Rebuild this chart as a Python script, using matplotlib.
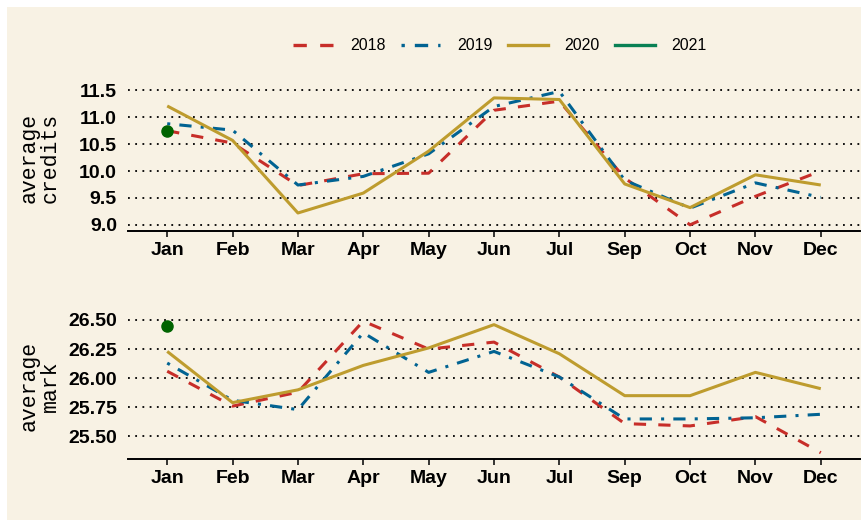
import matplotlib
matplotlib.use("Agg")
import matplotlib.pyplot as plt
from matplotlib.patches import Rectangle

months = ["Jan", "Feb", "Mar", "Apr", "May", "Jun", "Jul", "Sep", "Oct", "Nov", "Dec"]

credits_2018 = [10.75, 10.52, 9.73, 9.95, 9.96, 11.13, 11.30, 9.87, 9.00, 9.53, 10.00]
credits_2019 = [10.88, 10.76, 9.74, 9.90, 10.32, 11.20, 11.48, 9.83, 9.31, 9.78, 9.51]
credits_2020 = [11.21, 10.57, 9.22, 9.59, 10.37, 11.36, 11.33, 9.76, 9.32, 9.93, 9.74]
credits_2021 = [10.75]

mark_2018 = [26.06, 25.76, 25.88, 26.49, 26.25, 26.31, 26.01, 25.61, 25.59, 25.67, 25.36]
mark_2019 = [26.13, 25.81, 25.73, 26.39, 26.05, 26.23, 26.01, 25.65, 25.65, 25.66, 25.69]
mark_2020 = [26.23, 25.79, 25.90, 26.11, 26.26, 26.46, 26.21, 25.85, 25.85, 26.05, 25.91]
mark_2021 = [26.45]

years = ["2018", "2019", "2020", "2021"]
colors = {"2018": "#c72e29", "2019": "#016392", "2020": "#be9c2e", "2021": "#098154"}
dashes = {"2018": (4, 4), "2019": (1, 3, 4, 3), "2020": None, "2021": None}

BG = "#f8f2e4"
W, H = 862, 520
fig = plt.figure(figsize=(W / 100, H / 100), dpi=100, facecolor="white")
fig.patches.append(Rectangle((7 / W, 0), 1 - 7 / W, 1 - 7 / H, transform=fig.transFigure,
                             facecolor=BG, edgecolor="none", zorder=-10))

tick_font = dict(family="Liberation Sans", weight="bold", size=14)
label_font = dict(family="Liberation Mono", size=15.5)


def px_axes(left, top, right, bottom):
    return fig.add_axes([left / W, 1 - bottom / H, (right - left) / W, (bottom - top) / H])


def style(ax, ylim, yticks, fmt, ylabel):
    ax.set_facecolor(BG)
    ax.patch.set_alpha(0)
    ax.set_xlim(-0.6, len(months) - 1 + 0.6)
    ax.set_ylim(*ylim)
    ax.set_yticks(yticks)
    ax.set_yticklabels([fmt.format(v) for v in yticks], fontdict=tick_font)
    ax.set_xticks(range(len(months)))
    ax.set_xticklabels(months, fontdict=tick_font)
    for s in ["top", "right", "left"]:
        ax.spines[s].set_visible(False)
    ax.spines["bottom"].set_linewidth(1.4)
    ax.spines["bottom"].set_color("black")
    ax.tick_params(axis="x", length=4, width=1.1, color="black", pad=4)
    ax.tick_params(axis="y", length=0, pad=8)
    ax.grid(axis="y", color="black", linestyle=(0, (1, 3)), linewidth=1.3)
    ax.grid(axis="x", visible=False)
    ax.set_axisbelow(True)
    ax.set_ylabel(ylabel, fontdict=label_font, linespacing=1.0)
    ax.yaxis.set_label_coords(-0.092, 0.5)


def draw(ax, series, dot):
    x = range(len(months))
    for yr, vals in zip(years[:3], series):
        ln, = ax.plot(x, vals, color=colors[yr], linewidth=2.2, solid_capstyle="butt")
        if dashes[yr]:
            ln.set_dashes(dashes[yr])
    ax.plot(range(len(dot)), dot, "o", color="#006400", markersize=8, zorder=5)


ax1 = px_axes(128, 85, 860, 231)
draw(ax1, [credits_2018, credits_2019, credits_2020], credits_2021)
style(ax1, (8.885, 11.6), [9.0, 9.5, 10.0, 10.5, 11.0, 11.5], "{:.1f}", "average\ncredits")

ax2 = px_axes(128, 313, 860, 459)
draw(ax2, [mark_2018, mark_2019, mark_2020], mark_2021)
style(ax2, (25.306, 26.56), [25.50, 25.75, 26.00, 26.25, 26.50], "{:.2f}", "average\nmark")

# legend along the top
handles = []
for yr in years:
    h, = ax1.plot([], [], color=colors[yr], linewidth=2.4)
    if dashes[yr]:
        h.set_dashes(dashes[yr])
    handles.append(h)
fig.legend(handles, years, loc="center", bbox_to_anchor=(500 / W, 1 - 46 / H), ncol=4,
           frameon=False, prop=dict(family="Liberation Sans", size=11.5),
           handlelength=2.5, handletextpad=1.05, columnspacing=0.95)

fig.savefig("out.png", dpi=100, facecolor="white")
